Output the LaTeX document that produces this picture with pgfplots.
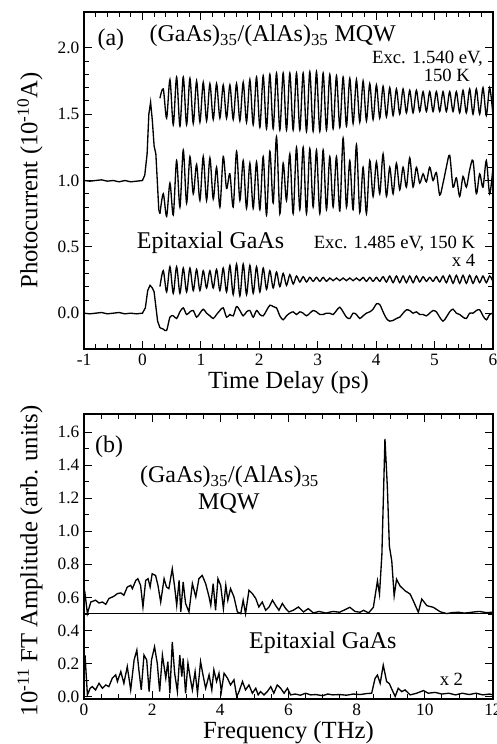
\documentclass[border=0pt]{standalone}
\usepackage{fontspec}
\setmainfont{Liberation Serif}
\usepackage{pgfplots}
\usepackage{pgfplotstable}
\pgfplotsset{compat=1.18}

% oscillating part of panel (a): t, MQW fit, MQW data, GaAs fit (x4, offset), GaAs data
\pgfplotstableread{
t a b c d
0.300 1.62 0.75 0.20 -0.11
0.357 1.69 0.90 0.32 -0.12
0.414 1.47 0.73 0.16 -0.13
0.471 1.76 0.98 0.35 -0.03
0.528 1.42 0.74 0.15 -0.02
0.585 1.78 1.15 0.35 -0.04
0.642 1.41 0.80 0.15 0.01
0.699 1.78 1.23 0.34 0.04
0.756 1.42 0.83 0.16 -0.01
0.813 1.77 1.18 0.34 0.01
0.870 1.43 0.90 0.17 0.02
0.927 1.75 1.12 0.33 -0.03
0.984 1.44 0.85 0.17 0.00
1.041 1.74 1.18 0.32 0.03
1.098 1.45 0.85 0.19 0.00
1.155 1.73 1.17 0.32 -0.02
1.212 1.46 0.86 0.19 -0.04
1.269 1.73 1.10 0.33 -0.01
1.326 1.47 0.80 0.17 0.02
1.383 1.72 1.18 0.34 0.04
1.440 1.47 0.94 0.16 -0.03
1.497 1.72 1.05 0.36 -0.01
1.554 1.46 0.80 0.14 -0.02
1.611 1.73 1.22 0.37 0.05
1.668 1.45 0.85 0.13 0.02
1.725 1.74 1.15 0.37 -0.02
1.782 1.44 0.79 0.14 0.01
1.839 1.76 1.13 0.36 0.02
1.896 1.42 0.79 0.15 -0.03
1.953 1.78 1.14 0.35 0.02
2.010 1.40 0.78 0.16 -0.01
2.067 1.79 1.18 0.34 -0.02
2.124 1.39 0.74 0.18 0.02
2.181 1.80 1.22 0.32 0.06
2.238 1.39 0.83 0.19 0.05
2.295 1.81 1.33 0.31 0.04
2.352 1.38 0.75 0.20 -0.02
2.409 1.81 1.13 0.30 -0.05
2.466 1.38 0.85 0.21 -0.02
2.523 1.81 1.20 0.29 0.00
2.580 1.38 0.75 0.22 0.01
2.637 1.81 1.25 0.28 -0.01
2.694 1.38 0.78 0.235 0.01
2.751 1.81 1.25 0.275 0.00
2.808 1.37 0.75 0.235 -0.02
2.865 1.82 1.24 0.27 0.00
2.922 1.37 0.80 0.24 0.02
2.979 1.82 1.23 0.27 0.01
3.036 1.37 0.75 0.24 -0.01
3.093 1.81 1.23 0.27 -0.01
3.150 1.38 0.78 0.24 0.00
3.207 1.80 1.18 0.265 0.00
3.264 1.39 0.80 0.245 -0.01
3.321 1.79 1.18 0.265 0.02
3.378 1.40 0.77 0.245 0.045
3.435 1.78 1.32 0.265 0.01
3.492 1.41 0.80 0.245 -0.03
3.549 1.77 1.15 0.265 -0.04
3.606 1.43 0.78 0.245 0.00
3.663 1.76 1.27 0.265 -0.01
3.720 1.44 0.76 0.245 -0.04
3.777 1.75 1.10 0.27 -0.02
3.834 1.45 0.75 0.24 0.00
3.891 1.73 1.15 0.27 0.01
3.948 1.46 0.88 0.24 0.03
4.005 1.72 1.14 0.27 0.07
4.062 1.47 0.90 0.24 0.065
4.119 1.71 1.20 0.275 0.01
4.176 1.48 0.88 0.235 -0.04
4.233 1.70 1.10 0.28 -0.06
4.290 1.49 0.90 0.23 -0.055
4.347 1.69 1.13 0.28 -0.04
4.404 1.50 0.93 0.23 -0.03
4.461 1.69 1.10 0.28 0.00
4.518 1.51 0.95 0.23 0.025
4.575 1.68 1.17 0.28 0.02
4.632 1.51 0.95 0.23 0.00
4.689 1.68 1.10 0.28 0.01
4.746 1.52 0.98 0.235 -0.01
4.803 1.67 1.05 0.275 -0.01
4.860 1.52 0.99 0.24 -0.02
4.917 1.67 1.10 0.27 0.00
4.974 1.52 1.00 0.24 0.02
5.031 1.67 1.06 0.275 0.01
5.088 1.52 0.89 0.235 -0.03
5.145 1.67 0.98 0.28 -0.06
5.202 1.52 1.10 0.23 -0.03
5.259 1.67 1.19 0.285 0.01
5.316 1.52 0.95 0.225 0.03
5.373 1.67 1.02 0.285 0.00
5.430 1.51 0.88 0.225 -0.01
5.487 1.68 1.03 0.285 -0.03
5.544 1.51 0.95 0.225 -0.04
5.601 1.69 1.08 0.285 0.00
5.658 1.50 1.15 0.225 0.00
5.715 1.69 0.90 0.28 0.02
5.772 1.50 1.05 0.23 0.025
5.829 1.70 0.95 0.28 -0.02
5.886 1.49 1.15 0.23 -0.05
5.943 1.70 0.90 0.28 -0.01
6.000 1.49 1.10 0.24 0.00
}\osc

\begin{document}
\begin{tikzpicture}
\useasboundingbox (-63pt,-33.75pt) rectangle (309.75pt,524.25pt);
\pgfplotsset{
  every axis/.append style={
    scale only axis,
    width=306.75pt,
    axis line style={line width=0.8pt},
    major tick length=6pt, minor tick length=3.5pt,
    every tick/.style={black, line width=0.6pt},
    tick label style={font=\fontsize{13}{13}\selectfont},
    label style={font=\fontsize{18.5}{18.5}\selectfont},
  },
}
% ---- panel (a)
\begin{axis}[
  at={(0pt,262.5pt)}, anchor=south west,
  height=252.75pt,
  xmin=-1, xmax=6, ymin=-0.27, ymax=2.27,
  xtick={-1,0,1,2,3,4,5,6}, xticklabels={-1,0,1,2,3,4,5,6},
  minor x tick num=4,
  ytick={0,0.5,1,1.5,2}, yticklabels={0.0,0.5,1.0,1.5,2.0},
  minor y tick num=4,
  xlabel={Time Delay (ps)},
  ylabel={Photocurrent (10\textsuperscript{-10}A)},
  xlabel style={at={(axis description cs:0.5,0)}, anchor=center, yshift=-25pt},
  ylabel style={at={(axis description cs:-0.132,0.5)}, anchor=center},
]
\addplot[black, line width=1pt] coordinates {
  (-1,1.0) (-0.9,0.995) (-0.8,1.0) (-0.7,1.005) (-0.6,0.995) (-0.5,1.0)
  (-0.4,0.99) (-0.3,1.0) (-0.2,0.99) (-0.1,0.995) (0.0,1.0) (0.04,1.04)
  (0.08,1.2) (0.11,1.5) (0.14,1.59) (0.17,1.45) (0.20,1.26) (0.23,1.20)
  (0.26,0.95) (0.28,0.78) (0.30,0.75)
};
\addplot[black, line width=1pt, smooth] table[x=t, y=b] {\osc};
\addplot[black, line width=1pt, smooth] table[x=t, y=a] {\osc};
\addplot[black, line width=1pt] coordinates {
  (-1,0.0) (-0.9,-0.005) (-0.8,0.0) (-0.7,0.005) (-0.6,-0.005) (-0.5,0.0)
  (-0.4,0.005) (-0.3,-0.005) (-0.2,0.0) (-0.1,-0.005) (0.0,0.0) (0.05,0.04)
  (0.09,0.17) (0.13,0.21) (0.17,0.19) (0.20,0.16) (0.23,0.05) (0.26,-0.06)
  (0.30,-0.11)
};
\addplot[black, line width=1pt, smooth] table[x=t, y=d] {\osc};
\addplot[black, line width=1pt, smooth] table[x=t, y=c] {\osc};
\node[font=\fontsize{18}{18}\selectfont, anchor=base] at (axis cs:-0.54,2.02) {(a)};
\node[font=\fontsize{18}{18}\selectfont, anchor=base] at (axis cs:2.23,2.045) {(GaAs)\textsubscript{35}/(AlAs)\textsubscript{35} MQW};
\node[font=\fontsize{14}{14}\selectfont, anchor=base east, inner sep=0pt] at (axis cs:5.83,1.88) {Exc. 1.540 eV,};
\node[font=\fontsize{14}{14}\selectfont, anchor=base east, inner sep=0pt] at (axis cs:5.61,1.745) {150 K};
\node[font=\fontsize{18}{18}\selectfont, anchor=base west, inner sep=0pt] at (axis cs:-0.10,0.49) {Epitaxial GaAs};
\node[font=\fontsize{14}{14}\selectfont, anchor=base east, inner sep=0pt] at (axis cs:5.70,0.49) {Exc. 1.485 eV, 150 K};
\node[font=\fontsize{14}{14}\selectfont, anchor=base east, inner sep=0pt] at (axis cs:5.70,0.35) {x 4};
\end{axis}
% ---- panel (b)
\begin{axis}[
  at={(0pt,0pt)}, anchor=south west,
  height=213.75pt,
  xmin=0, xmax=12, ymin=-0.015, ymax=1.71,
  xtick={0,2,4,6,8,10,12}, xticklabels={0,2,4,6,8,10,12},
  minor x tick num=3,
  ytick={0,0.2,0.4,0.6,0.8,1.0,1.2,1.4,1.6},
  yticklabels={0.0,0.2,0.4,0.6,0.8,1.0,1.2,1.4,1.6},
  minor y tick num=1,
  xlabel={Frequency (THz)},
  ylabel={10\textsuperscript{-11} FT Amplitude (arb. units)},
  xlabel style={at={(axis description cs:0.5,0)}, anchor=center, yshift=-25.5pt},
  ylabel style={at={(axis description cs:-0.132,0.485)}, anchor=center},
]
\draw[line width=0.8pt] (rel axis cs:0,0.2985) -- (rel axis cs:1,0.2985);
% MQW spectrum (offset 0.5)
\addplot[black, line width=1pt] coordinates {
  (0.02,0.64) (0.10,0.502) (0.20,0.572) (0.34,0.583) (0.44,0.566) (0.54,0.572)
  (0.64,0.558) (0.73,0.593) (0.88,0.607) (0.98,0.623) (1.08,0.627) (1.17,0.613)
  (1.27,0.663) (1.37,0.673) (1.42,0.653) (1.52,0.703) (1.58,0.713) (1.66,0.673)
  (1.73,0.542) (1.81,0.703) (1.88,0.713) (1.94,0.663) (2.00,0.743) (2.10,0.733)
  (2.17,0.673) (2.25,0.572) (2.35,0.713) (2.42,0.663) (2.49,0.653) (2.59,0.773)
  (2.66,0.663) (2.72,0.552) (2.79,0.703) (2.84,0.512) (2.91,0.693) (2.98,0.563)
  (3.08,0.512) (3.18,0.683) (3.28,0.603) (3.37,0.713) (3.47,0.733) (3.57,0.683)
  (3.67,0.603) (3.72,0.552) (3.79,0.683) (3.86,0.522) (3.93,0.713) (4.01,0.673)
  (4.09,0.532) (4.16,0.673) (4.22,0.583) (4.30,0.653) (4.40,0.603) (4.50,0.512)
  (4.60,0.502) (4.67,0.583) (4.74,0.502) (4.84,0.643) (4.94,0.623) (5.04,0.593)
  (5.13,0.542) (5.23,0.572) (5.33,0.522) (5.43,0.542) (5.53,0.583) (5.62,0.552)
  (5.72,0.522) (5.82,0.563) (5.92,0.532) (6.01,0.512) (6.14,0.522) (6.29,0.542)
  (6.44,0.512) (6.58,0.532) (6.73,0.506) (6.90,0.515) (7.10,0.505) (7.30,0.515)
  (7.50,0.510) (7.70,0.530) (7.80,0.540) (7.95,0.515) (8.10,0.510) (8.20,0.522)
  (8.35,0.506) (8.49,0.540) (8.61,0.700) (8.67,0.620) (8.74,0.860) (8.83,1.560)
  (8.90,1.270) (8.96,0.910) (9.03,0.820) (9.10,0.610) (9.17,0.710) (9.27,0.670)
  (9.42,0.640) (9.57,0.620) (9.66,0.580) (9.81,0.510) (9.91,0.590) (10.06,0.550)
  (10.25,0.540) (10.45,0.513) (10.64,0.502) (10.80,0.508) (11.00,0.510)
  (11.15,0.505) (11.30,0.508) (11.45,0.512) (11.60,0.515) (11.80,0.508) (12.00,0.510)
};
% GaAs spectrum (x2)
\addplot[black, line width=1pt] coordinates {
  (0.03,0.251) (0.10,0.010) (0.18,0.050) (0.24,0.060) (0.34,0.040) (0.44,0.080)
  (0.54,0.050) (0.64,0.070) (0.73,0.060) (0.83,0.111) (0.93,0.131) (0.98,0.091)
  (1.08,0.151) (1.17,0.080) (1.27,0.181) (1.37,0.040) (1.47,0.221) (1.55,0.281)
  (1.61,0.161) (1.68,0.040) (1.76,0.251) (1.84,0.221) (1.91,0.030) (1.98,0.221)
  (2.07,0.301) (2.15,0.201) (2.22,0.030) (2.30,0.251) (2.40,0.111) (2.46,0.211)
  (2.52,0.020) (2.59,0.331) (2.66,0.141) (2.74,0.030) (2.81,0.251) (2.87,0.121)
  (2.91,0.231) (2.98,0.020) (3.05,0.201) (3.11,0.121) (3.18,0.040) (3.26,0.151)
  (3.33,0.020) (3.42,0.211) (3.50,0.121) (3.57,0.050) (3.67,0.131) (3.75,0.040)
  (3.81,0.161) (3.89,0.091) (3.96,0.141) (4.03,0.030) (4.11,0.141) (4.21,0.111)
  (4.30,0.070) (4.40,0.101) (4.48,0.000) (4.55,0.030) (4.65,0.091) (4.74,0.040)
  (4.84,0.070) (4.94,0.020) (5.04,0.050) (5.11,0.010) (5.18,0.030) (5.28,0.010)
  (5.38,0.030) (5.48,0.060) (5.57,0.020) (5.67,0.070) (5.77,0.050) (5.87,0.020)
  (5.97,0.050) (6.06,0.010) (6.20,0.015) (6.35,0.008) (6.50,0.020) (6.65,0.010)
  (6.80,0.012) (7.00,0.005) (7.15,0.015) (7.30,0.010) (7.50,0.012) (7.70,0.008)
  (7.90,0.015) (8.10,0.012) (8.30,0.018) (8.44,0.020) (8.54,0.110) (8.61,0.130)
  (8.69,0.080) (8.78,0.190) (8.88,0.090) (8.96,0.078) (9.03,0.045) (9.13,0.000)
  (9.22,0.050) (9.32,0.030) (9.42,0.040) (9.57,0.010) (9.76,0.020) (9.96,0.036)
  (10.10,0.020) (10.30,0.025) (10.50,0.015) (10.70,0.020) (10.90,0.010)
  (11.10,0.020) (11.30,0.012) (11.50,0.020) (11.70,0.010) (11.90,0.015) (12.00,0.010)
};
\node[font=\fontsize{18}{18}\selectfont, anchor=base west, inner sep=0pt] at (axis cs:0.32,1.476) {(b)};
\node[font=\fontsize{18}{18}\selectfont, anchor=base] at (axis cs:4.27,1.295) {(GaAs)\textsubscript{35}/(AlAs)\textsubscript{35}};
\node[font=\fontsize{18}{18}\selectfont, anchor=base] at (axis cs:4.25,1.135) {MQW};
\node[font=\fontsize{18}{18}\selectfont, anchor=base west, inner sep=0pt] at (axis cs:4.84,0.29) {Epitaxial GaAs};
\node[font=\fontsize{14}{14}\selectfont, anchor=base west, inner sep=0pt] at (axis cs:10.43,0.064) {x 2};
\end{axis}
\end{tikzpicture}
\end{document}
